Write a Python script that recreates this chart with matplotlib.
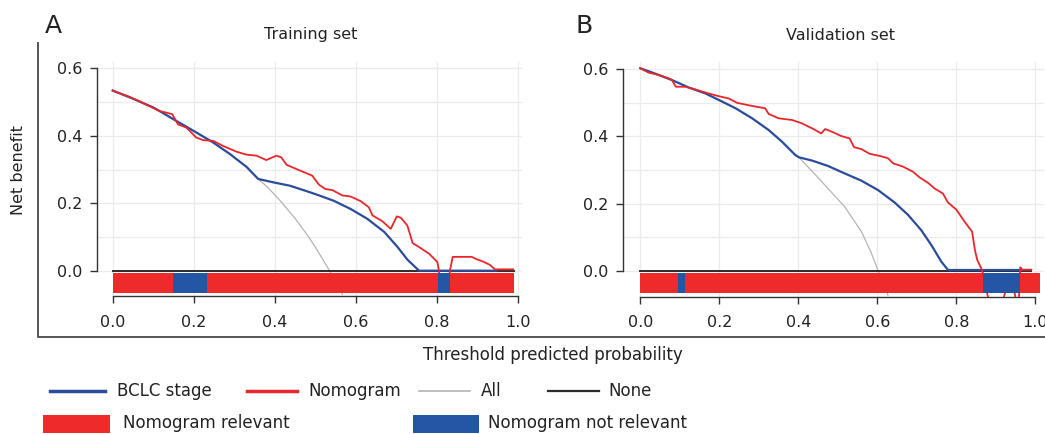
import numpy as np
import matplotlib
matplotlib.use('Agg')
import matplotlib.pyplot as plt
from matplotlib.lines import Line2D
from matplotlib.patches import Rectangle
from matplotlib.ticker import MultipleLocator

# ---- data ----
# Training set (A)
all_a_x = [0.0, 0.05, 0.10, 0.116, 0.157, 0.206, 0.248, 0.289, 0.330, 0.359, 0.38, 0.40, 0.42, 0.45,
           0.48, 0.50, 0.52, 0.535, 0.55, 0.567]
all_a_y = [0.534, 0.510, 0.484, 0.473, 0.444, 0.410, 0.380, 0.346, 0.308, 0.272, 0.250, 0.225, 0.198,
           0.155, 0.106, 0.070, 0.030, 0.0, -0.032, -0.070]

bclc_a_x = [0.0, 0.05, 0.10, 0.116, 0.157, 0.206, 0.248, 0.289, 0.330, 0.359, 0.396, 0.437, 0.478,
            0.505, 0.546, 0.587, 0.628, 0.670, 0.703, 0.727, 0.748, 0.756, 0.946]
bclc_a_y = [0.534, 0.510, 0.484, 0.473, 0.444, 0.410, 0.380, 0.346, 0.308, 0.272, 0.262, 0.252, 0.236,
            0.225, 0.207, 0.183, 0.154, 0.115, 0.070, 0.033, 0.009, 0.0, 0.0]

nomo_a_x = [0.0, 0.042, 0.068, 0.116, 0.124, 0.147, 0.161, 0.182, 0.206, 0.223, 0.248, 0.272, 0.305,
            0.330, 0.355, 0.379, 0.404, 0.416, 0.429, 0.454, 0.478, 0.492, 0.509, 0.525, 0.542, 0.567,
            0.587, 0.612, 0.632, 0.641, 0.665, 0.686, 0.701, 0.711, 0.727, 0.740, 0.756, 0.781, 0.801,
            0.805, 0.809, 0.828, 0.832, 0.839, 0.886, 0.898, 0.914, 0.931, 0.943, 0.988]
nomo_a_y = [0.534, 0.515, 0.501, 0.473, 0.471, 0.464, 0.434, 0.424, 0.395, 0.387, 0.385, 0.370, 0.353,
            0.344, 0.341, 0.328, 0.341, 0.336, 0.314, 0.301, 0.289, 0.282, 0.255, 0.242, 0.239, 0.223,
            0.220, 0.206, 0.188, 0.164, 0.147, 0.124, 0.161, 0.157, 0.134, 0.082, 0.070, 0.050, 0.026,
            0.0, -0.050, -0.050, 0.0, 0.041, 0.041, 0.034, 0.027, 0.017, 0.004, 0.004]

bar_a_start = [0.0, 0.1495, 0.232, 0.8015, 0.832]
bar_a_end = [0.1495, 0.232, 0.8015, 0.832, 0.991]
bar_a_relevant = [True, False, True, False, True]

# Validation set (B)
all_b_x = [0.0, 0.04, 0.08, 0.122, 0.165, 0.198, 0.241, 0.283, 0.325, 0.359, 0.392, 0.401, 0.44,
           0.475, 0.517, 0.56, 0.585, 0.602, 0.615, 0.627]
all_b_y = [0.603, 0.586, 0.568, 0.546, 0.528, 0.509, 0.484, 0.454, 0.419, 0.384, 0.345, 0.338, 0.290,
           0.245, 0.191, 0.116, 0.052, 0.0, -0.035, -0.073]

bclc_b_x = [0.0, 0.04, 0.08, 0.122, 0.165, 0.198, 0.241, 0.283, 0.325, 0.359, 0.392, 0.401, 0.435,
            0.475, 0.517, 0.560, 0.602, 0.644, 0.678, 0.711, 0.737, 0.762, 0.779, 0.966]
bclc_b_y = [0.603, 0.586, 0.568, 0.546, 0.528, 0.509, 0.484, 0.454, 0.419, 0.384, 0.345, 0.338, 0.328,
            0.312, 0.290, 0.268, 0.240, 0.203, 0.166, 0.121, 0.076, 0.027, 0.002, 0.002]

nomo_b_x = [0.0, 0.021, 0.047, 0.076, 0.080, 0.090, 0.114, 0.139, 0.173, 0.198, 0.224, 0.245, 0.270,
            0.291, 0.316, 0.325, 0.350, 0.384, 0.409, 0.435, 0.458, 0.468, 0.485, 0.509, 0.530, 0.541,
            0.560, 0.581, 0.606, 0.627, 0.640, 0.665, 0.690, 0.707, 0.728, 0.745, 0.766, 0.779, 0.800,
            0.821, 0.840, 0.847, 0.853, 0.863, 0.868, 0.884, 0.915, 0.930, 0.945, 0.953, 0.958, 0.962,
            0.966, 0.990]
nomo_b_y = [0.603, 0.590, 0.583, 0.571, 0.568, 0.548, 0.548, 0.540, 0.528, 0.520, 0.513, 0.500, 0.494,
            0.489, 0.484, 0.467, 0.454, 0.449, 0.439, 0.424, 0.409, 0.422, 0.414, 0.401, 0.394, 0.368,
            0.362, 0.348, 0.342, 0.335, 0.320, 0.310, 0.295, 0.278, 0.262, 0.245, 0.230, 0.203, 0.182,
            0.146, 0.116, 0.062, 0.032, 0.007, -0.010, -0.100, -0.100, -0.040, -0.050, -0.100, -0.100, 0.010,
            0.003, 0.003]

bar_b_start = [0.0, 0.095, 0.112, 0.868, 0.961]
bar_b_end = [0.095, 0.112, 0.868, 0.961, 1.013]
bar_b_relevant = [True, False, True, False, True]

none_x = [0.0, 0.99]
none_y = [0.0, 0.0]

titles = ['Training set', 'Validation set']
letters = ['A', 'B']

# ---- style ----
W, H = 1045, 434
BLUE = '#2b4c9b'
RED = '#e8262b'
BAR_RED = '#ee2a2a'
BAR_BLUE = '#2356a5'
GRAY = '#b4b4b4'
DARK = '#2b2b2b'
TXT = '#222222'


def fx(px):
    return px / W


def fy(py):
    return 1 - py / H


def add_axes(fig, left, right, top, bottom):
    return fig.add_axes([fx(left), fy(bottom), (right - left) / W, (bottom - top) / H])


def style_axes(ax, xlim, ylim):
    ax.set_xlim(*xlim)
    ax.set_ylim(*ylim)
    ax.set_xticks([0.0, 0.2, 0.4, 0.6, 0.8, 1.0])
    ax.set_yticks([0.0, 0.2, 0.4, 0.6])
    ax.yaxis.set_minor_locator(MultipleLocator(0.1))
    ax.set_axisbelow(True)
    ax.grid(True, which='both', color='#ebebeb', lw=0.9)
    for s in ['top', 'right']:
        ax.spines[s].set_visible(False)
    for s in ['left', 'bottom']:
        ax.spines[s].set_color('#333333')
        ax.spines[s].set_linewidth(1.0)
    ax.spines['left'].set_bounds(0, 0.6)
    ax.spines['bottom'].set_bounds(0, 1)
    ax.tick_params(which='major', direction='out', length=5, width=1, color='#333333',
                   labelsize=11.5, labelcolor=TXT)
    ax.tick_params(axis='x', pad=8.5)
    ax.tick_params(axis='y', pad=5.5)
    ax.tick_params(which='minor', length=0)


def plot_panel(ax, all_x, all_y, bclc_x, bclc_y, nomo_x, nomo_y, starts, ends, relevant):
    ax.plot(all_x, all_y, color=GRAY, lw=0.9, zorder=2)
    ax.plot(none_x, none_y, color=DARK, lw=1.4, zorder=2.5)
    ax.plot(bclc_x, bclc_y, color=BLUE, lw=1.6, zorder=3)
    ax.plot(nomo_x, nomo_y, color=RED, lw=1.3, zorder=4)
    segs = [(s, e - s) for s, e in zip(starts, ends)]
    cols = [BAR_RED if r else BAR_BLUE for r in relevant]
    ax.broken_barh(segs, (-0.067, 0.0593), facecolors=cols, zorder=5)


fig = plt.figure(figsize=(W / 100, H / 100), dpi=100)

ax_a = add_axes(fig, 96.7, 522.0, 61.7, 296.0)
style_axes(ax_a, (-0.0395, 1.0099), (-0.075, 0.6196))
plot_panel(ax_a, all_a_x, all_a_y, bclc_a_x, bclc_a_y, nomo_a_x, nomo_a_y,
           bar_a_start, bar_a_end, bar_a_relevant)

ax_b = add_axes(fig, 622.7, 1044.0, 61.7, 296.7)
style_axes(ax_b, (-0.0446, 1.022), (-0.0775, 0.6226))
plot_panel(ax_b, all_b_x, all_b_y, bclc_b_x, bclc_b_y, nomo_b_x, nomo_b_y,
           bar_b_start, bar_b_end, bar_b_relevant)

# panel titles and letters
fig.text(fx(311), fy(39.5), titles[0], ha='center', va='baseline', fontsize=11.5, color=TXT)
fig.text(fx(840), fy(39.5), titles[1], ha='center', va='baseline', fontsize=11.5, color=TXT)
fig.text(fx(45), fy(33), letters[0], ha='left', va='baseline', fontsize=18, color=TXT)
fig.text(fx(576), fy(33), letters[1], ha='left', va='baseline', fontsize=18, color=TXT)

# shared axis labels
fig.text(fx(18.6), fy(170), 'Net benefit', rotation=90, ha='center', va='center',
         fontsize=11.5, color=TXT)
fig.text(fx(552.5), fy(360.5), 'Threshold predicted probability', ha='center', va='baseline',
         fontsize=12, color=TXT)

# outer L frame
fig.add_artist(Line2D([fx(38.3), fx(38.3), fx(1045)], [fy(43.3), fy(337.3), fy(337.3)],
                      color='#555555', lw=1.4, transform=fig.transFigure))

# legend row 1: lines
leg_lines = [(50, 105, BLUE, 2.5, 'BCLC stage', 117),
             (247, 297, RED, 2.5, 'Nomogram', 308),
             (419, 470, GRAY, 1.2, 'All', 481),
             (548, 599, DARK, 1.6, 'None', 608)]
for x0, x1, c, lw, lab, tx in leg_lines:
    fig.add_artist(Line2D([fx(x0), fx(x1)], [fy(391), fy(391)], color=c, lw=lw,
                          transform=fig.transFigure))
    fig.text(fx(tx), fy(396.5), lab, ha='left', va='baseline', fontsize=12, color=TXT)

# legend row 2: patches
leg_boxes = [(43, 110, BAR_RED, 'Nomogram relevant', 123),
             (413, 479, BAR_BLUE, 'Nomogram not relevant', 488)]
for x0, x1, c, lab, tx in leg_boxes:
    fig.add_artist(Rectangle((fx(x0), fy(433)), (x1 - x0) / W, 18 / H, facecolor=c,
                             edgecolor='none', transform=fig.transFigure))
    fig.text(fx(tx), fy(427.5), lab, ha='left', va='baseline', fontsize=12, color=TXT)

fig.savefig('out.png', dpi=100)
